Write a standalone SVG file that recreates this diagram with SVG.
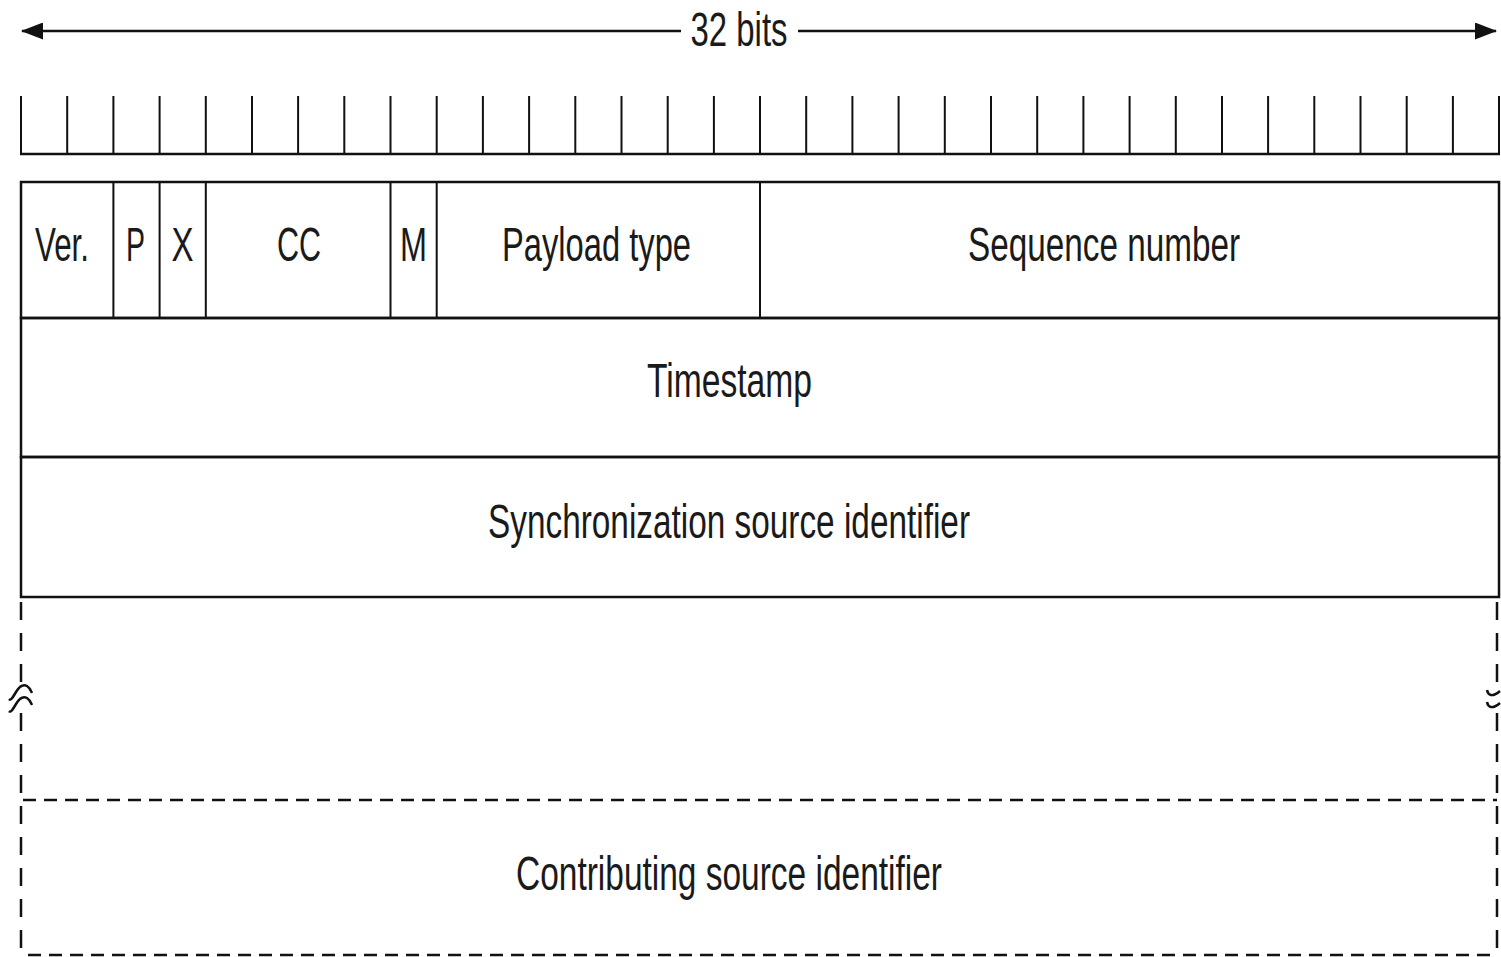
<svg xmlns="http://www.w3.org/2000/svg" width="1501" height="957" viewBox="0 0 1501 957">
<style>
.t{font-family:"Liberation Sans",Arial,sans-serif;font-size:48px;fill:#1a1a1a;text-anchor:middle}
.ln{stroke:#111;stroke-width:2.5;fill:none}
.tk{stroke:#111;stroke-width:2;fill:none}
.dv{stroke:#111;stroke-width:2.5;fill:none;stroke-dasharray:18 13}
.dh{stroke:#111;stroke-width:2.5;fill:none;stroke-dasharray:13 8}
</style>
<defs>
<marker id="ah" markerWidth="22" markerHeight="17" refX="21" refY="8.5" orient="auto-start-reverse" markerUnits="userSpaceOnUse">
<path d="M0,0 L22,8.5 L0,17 Z" fill="#111"/>
</marker>
</defs>
<g id="connectors">
<line class="ln" x1="22" y1="31" x2="681" y2="31" marker-start="url(#ah)"/>
<line class="ln" x1="798" y1="31" x2="1496" y2="31" marker-end="url(#ah)"/>
</g>
<g id="width-label"><text class="t" x="739" y="46" textLength="97" lengthAdjust="spacingAndGlyphs">32 bits</text></g>
<g id="ruler">
<path class="tk" d="M21,96V154 M67.2,96V154 M113.4,96V154 M159.6,96V154 M205.8,96V154 M252,96V154 M298.1,96V154 M344.3,96V154 M390.5,96V154 M436.7,96V154 M482.9,96V154 M529.1,96V154 M575.3,96V154 M621.5,96V154 M667.7,96V154 M713.9,96V154 M760,96V154 M806.2,96V154 M852.4,96V154 M898.6,96V154 M944.8,96V154 M991,96V154 M1037.2,96V154 M1083.4,96V154 M1129.6,96V154 M1175.8,96V154 M1222,96V154 M1268.1,96V154 M1314.3,96V154 M1360.5,96V154 M1406.7,96V154 M1452.9,96V154 M1499,96V154"/>
<line class="ln" x1="20" y1="154" x2="1500" y2="154"/>
</g>
<g id="row1">
<rect class="ln" x="21" y="182" width="1478" height="136"/>
<path class="tk" d="M113.4,182V318 M159.6,182V318 M205.8,182V318 M390.5,182V318 M436.7,182V318 M760,182V318"/>
<text class="t" x="62" y="261" textLength="54" lengthAdjust="spacingAndGlyphs">Ver.</text>
<text class="t" x="135.5" y="261" textLength="19" lengthAdjust="spacingAndGlyphs">P</text>
<text class="t" x="182.5" y="261" textLength="22" lengthAdjust="spacingAndGlyphs">X</text>
<text class="t" x="299" y="261" textLength="44" lengthAdjust="spacingAndGlyphs">CC</text>
<text class="t" x="413.5" y="261" textLength="27" lengthAdjust="spacingAndGlyphs">M</text>
<text class="t" x="596.5" y="261" textLength="189" lengthAdjust="spacingAndGlyphs">Payload type</text>
<text class="t" x="1104" y="261" textLength="272" lengthAdjust="spacingAndGlyphs">Sequence number</text>
</g>
<g id="timestamp">
<rect class="ln" x="21" y="318" width="1478" height="139"/>
<text class="t" x="729.5" y="397" textLength="165" lengthAdjust="spacingAndGlyphs">Timestamp</text>
</g>
<g id="ssrc">
<rect class="ln" x="21" y="457" width="1478" height="140"/>
<text class="t" x="729" y="538" textLength="482" lengthAdjust="spacingAndGlyphs">Synchronization source identifier</text>
</g>
<g id="csrc">
<line class="dv" x1="21" y1="602" x2="21" y2="683"/>
<line class="dv" x1="21" y1="713" x2="21" y2="955"/>
<line class="dv" x1="1497" y1="602" x2="1497" y2="687"/>
<line class="dv" x1="1497" y1="713" x2="1497" y2="955"/>
<line class="dh" x1="23" y1="800" x2="1497" y2="800"/>
<line class="dh" x1="28" y1="955" x2="1497" y2="955"/>
<path class="ln" d="M9,699 C11,701 13,697 16,692 C19,687 23,684 27,686 C30,688 31,691 32,693 M9,711 C11,713 13,709 16,704 C19,699 23,696 27,698 C30,700 31,703 32,705"/>
<path class="ln" d="M1487,690 C1488,695 1492,698 1500,691 M1487,702 C1488,707 1492,710 1500,703"/>
<text class="t" x="729" y="890" textLength="426" lengthAdjust="spacingAndGlyphs">Contributing source identifier</text>
</g>
</svg>
